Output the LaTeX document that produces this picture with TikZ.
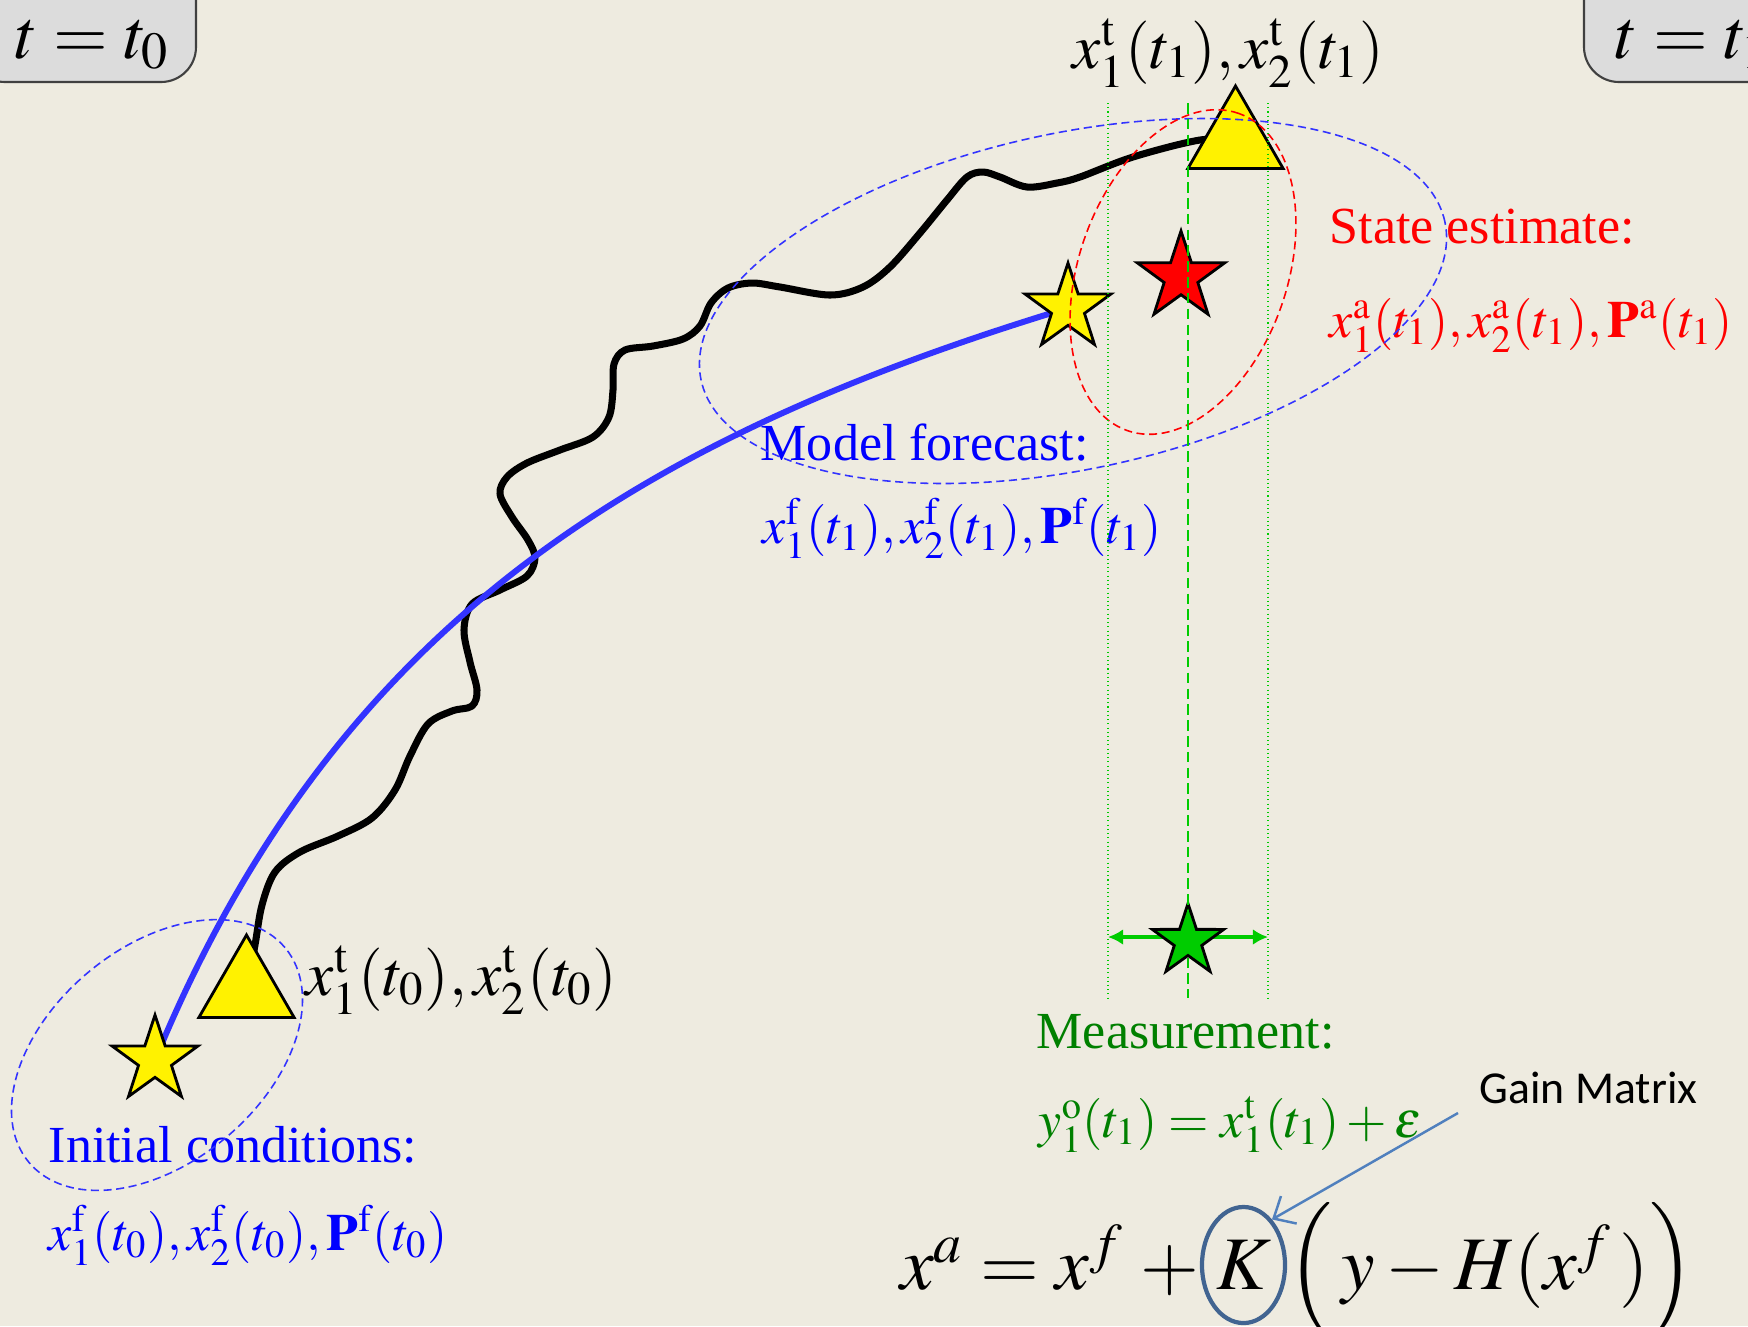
\documentclass[tikz,border=0pt]{standalone}
\usepackage{mathptmx}
\usepackage[no-math]{fontspec}
\setmainfont{Liberation Serif}
\newfontfamily\gainfont{Carlito}
\usepackage{tikz}
\usetikzlibrary{shapes.geometric,arrows.meta,positioning,fit}

\definecolor{bgbeige}{RGB}{238,235,224}
\definecolor{fcblue}{RGB}{51,51,255}
\definecolor{obgreen}{RGB}{0,204,0}
\definecolor{txtgreen}{RGB}{0,128,0}
\definecolor{gainblue}{RGB}{80,128,190}
\definecolor{kblue}{RGB}{65,100,145}
\definecolor{boxgray}{RGB}{220,220,220}

\begin{document}
\begin{tikzpicture}[x=0.01cm,y=-0.01cm,
      lbl/.style={inner sep=0,anchor=base west,font=\fontsize{14.8}{17}\selectfont},
      tlbl/.style={inner sep=0,anchor=base west,font=\fontsize{18}{21}\selectfont},
      tbox/.style={draw=black!75,fill=boxgray,rounded corners=0.35cm,line width=0.6pt,inner sep=0},
      tri/.style={regular polygon,regular polygon sides=3,draw=black,fill=yellow,
                  line width=0.8pt,minimum size=1.1cm,inner sep=0},
      starnode/.style={star,star points=5,star point ratio=2.6,draw=black,line width=0.8pt,inner sep=0},
      truth/.style={line width=2pt,black,line join=round,line cap=round},
      fcst/.style={line width=1.7pt,fcblue},
      spread/.style={dash pattern=on 2.3pt off 1.3pt,line width=0.45pt},
      guide/.style={obgreen,line width=0.5pt,dash pattern=on 0.3pt off 0.9pt},
      obsline/.style={obgreen,line width=0.7pt,dash pattern=on 3pt off 1.5pt},
      meas/.style={obgreen,line width=0.9pt,{Latex[length=4.3pt,width=4.5pt]}-{Latex[length=4.3pt,width=4.5pt]}},
      gainarr/.style={gainblue,line width=0.7pt,-{Straight Barb[length=5pt,width=9pt]}},
  ]
  \clip (0,0) rectangle (1748,1326);
  \fill[bgbeige] (0,0) rectangle (1748,1326);

  % Time stamps
  \node[tbox,fit={(-30,-60) (196,82)}] (b0) {};
  \node[inner sep=0,anchor=base west,font=\fontsize{20}{24}\selectfont] (t0) at (15,58) {$t=t_0$};
  \node[tbox,fit={(1584,-60) (1800,82)}] (b1) {};
  \node[inner sep=0,anchor=base west,font=\fontsize{20}{24}\selectfont] (t1) at (1615,58) {$t=t_1$};

  % Positions of the states
  \coordinate (ic0) at (155,1060);
  \coordinate (fc0) at (1068,308);
  \coordinate (tr00) at (246.5,990);
  \coordinate (tr10) at (1235.5,141);

  % True trajectory and model forecast
  \draw[truth] plot[smooth,tension=0.55] coordinates {(tr00) (255,945) (262,905) (275,872)
      (300,852) (338,836) (372,818) (395,790) (410,756) (428,724) (452,711) (472,706)
      (477,690) (470,662) (464,630) (472,604) (500,590) (527,576) (535,558) (528,540)
      (512,517) (500,494) (507,477) (527,463) (560,450) (593,437) (609,417) (613,390)
      (614,364) (625,350) (653,346) (683,339) (700,326) (711,303) (728,288) (752,283)
      (780,287) (830,295) (863,287) (890,267) (920,233) (947,200) (967,177) (983,172)
      (1000,177) (1027,187) (1057,183) (1080,177) (1133,157) (1200,140) (tr10)};
  \draw[fcst] (ic0) .. controls (340,610) and (660,432) .. (fc0);

  % Labels
  \node[lbl,blue] (iclbl) at (48,1162) {Initial conditions:};
  \node[lbl,blue] (icval) at (48,1250) {$x_1^{\mathrm{f}}(t_0), x_2^{\mathrm{f}}(t_0), \mathbf{P}^{\mathrm{f}}(t_0)$};
  \node[lbl,blue] (fclbl) at (760,460) {Model forecast:};
  \node[lbl,blue] (fcval) at (762,543) {$x_1^{\mathrm{f}}(t_1), x_2^{\mathrm{f}}(t_1), \mathbf{P}^{\mathrm{f}}(t_1)$};
  \node[lbl,red] (anlbl) at (1329,243) {State estimate:};
  \node[lbl,red] (anval) at (1329,337) {$x_1^{\mathrm{a}}(t_1), x_2^{\mathrm{a}}(t_1), \mathbf{P}^{\mathrm{a}}(t_1)$};
  \node[lbl,txtgreen] (oblbl) at (1036,1048) {Measurement:};
  \node[lbl,txtgreen] (obval) at (1038,1137) {$y_1^{\mathrm{o}}(t_1) = x_1^{\mathrm{t}}(t_1) + \varepsilon$};
  \node[tlbl] (tr0lbl) at (305,995) {$x_1^{\mathrm{t}}(t_0), x_2^{\mathrm{t}}(t_0)$};
  \node[tlbl] (tr1lbl) at (1072,68) {$x_1^{\mathrm{t}}(t_1), x_2^{\mathrm{t}}(t_1)$};

  % Measurement spread
  \coordinate (mL) at (1108,937);
  \coordinate (mR) at (1268,937);
  \draw[meas] (mL) -- (mR);

  % States
  \node[tri] (tr0) at (tr00) {};
  \node[tri] (tr1) at (tr10) {};
  \node[starnode,fill=yellow,minimum size=0.9cm] (ic) at (ic0) {};
  \node[starnode,fill=yellow,minimum size=0.9cm] (fc) at (fc0) {};
  \node[starnode,fill=red,minimum size=0.92cm] (an) at (1181,277) {};
  \node[starnode,fill=obgreen,minimum size=0.75cm] (ob) at (1188,941) {};

  % Uncertainty ellipses
  \draw[spread,fcblue,rotate around={40:(157,1055)}] (157,1055) ellipse [x radius=1.67cm,y radius=1.075cm];
  \draw[spread,fcblue,rotate around={12:(1073,301)}] (1073,301) ellipse [x radius=3.8cm,y radius=1.68cm];
  \draw[spread,red,rotate around={70.6:(1183,272)}] (1183,272) ellipse [x radius=1.68cm,y radius=1.04cm];

  % Measurement guides
  \foreach \gx/\gs in {1108/guide,1268/guide,1188/obsline}
    \draw[\gs] (\gx,103) -- (\gx,998);

  % Update equation
  \node[draw=kblue,line width=1.2pt,ellipse,minimum width=0.83cm,minimum height=1.16cm,inner sep=0,
        font=\fontsize{21.5}{26}\selectfont] (kgain) at (1243.5,1265) {$K$};
  \node[inner sep=0,anchor=base east,font=\fontsize{21.5}{26}\selectfont] (lhs) at (kgain.base west)
    {$x^{a} = x^{f}\; +$};
  \node[inner sep=0,anchor=base west,font=\fontsize{21.5}{26}\selectfont] (rhs) at (kgain.base east)
    {$\Bigl(\, y - H(x^{f}\,)\Bigr)$};
  \node[inner sep=0,anchor=base west,font=\gainfont\fontsize{13}{15}\selectfont] (gain) at (1479,1103) {Gain Matrix};
  \coordinate (gtail) at (1458,1113);
  \draw[gainarr] (gtail) -- (kgain.58);
\end{tikzpicture}
\end{document}
